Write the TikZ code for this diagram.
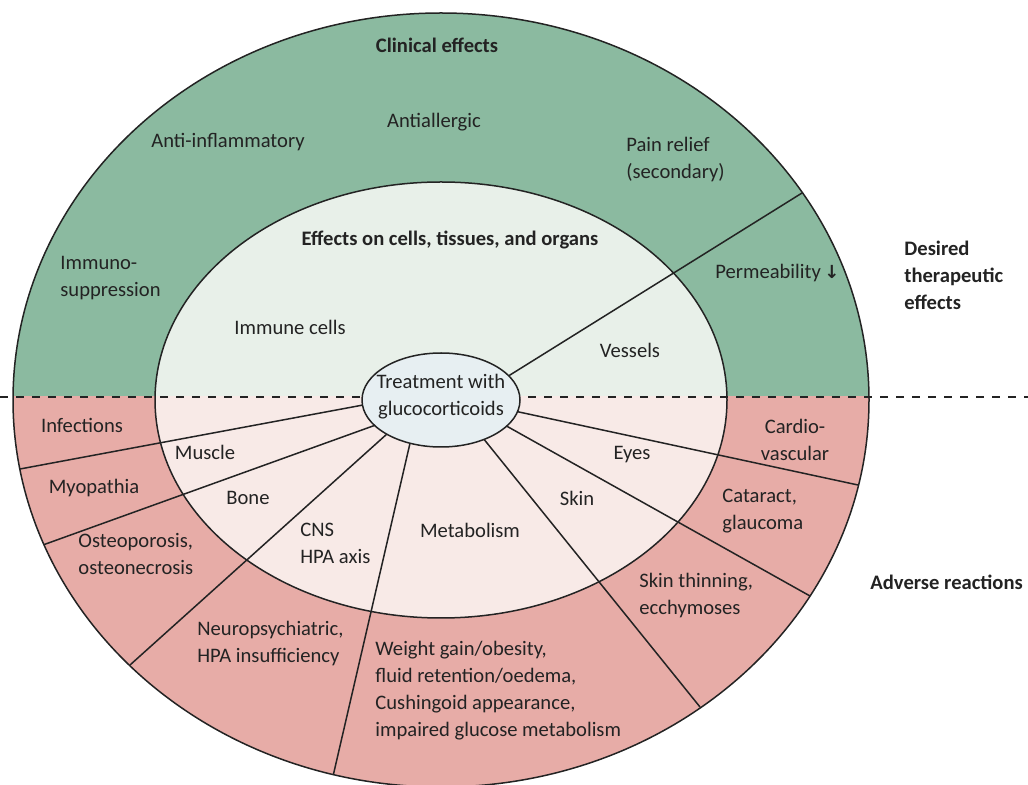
\documentclass[tikz,border=0pt]{standalone}
\usepackage{fontspec}
\setmainfont{Carlito}
\newfontfamily\dejavu{DejaVu Sans}
\usetikzlibrary{shapes.geometric}
\definecolor{greenOuter}{RGB}{139,186,160}
\definecolor{greenInner}{RGB}{232,240,233}
\definecolor{pinkOuter}{RGB}{231,172,167}
\definecolor{pinkInner}{RGB}{248,234,231}
\definecolor{centreFill}{RGB}{231,239,242}
\definecolor{ink}{RGB}{35,35,35}
\tikzset{
  lbl/.style={font=\fontsize{10.3}{13.5}\selectfont, text=ink, inner sep=0pt},
  lblL/.style={lbl, align=left},
  lblC/.style={lbl, align=center},
  hdr/.style={font=\bfseries\fontsize{10.3}{13.5}\selectfont, text=ink, inner sep=0pt},
  rim/.style={draw=ink, line width=0.75pt},
  spoke/.style={draw=ink, line width=0.75pt},
}
\begin{document}
\begin{tikzpicture}[x=0.5pt,y=-0.5pt]
\useasboundingbox (0,0) rectangle (1028,785);
% upper half fills
\begin{scope}
  \clip (0,0) rectangle (1028,397);
  \fill[greenOuter] (441,400) ellipse [x radius=428, y radius=387];
  \fill[greenInner] (441,400) ellipse [x radius=286, y radius=218];
\end{scope}
% lower half fills
\begin{scope}
  \clip (0,397) rectangle (1028,785);
  \fill[pinkOuter] (441,400) ellipse [x radius=428, y radius=387];
  \fill[pinkInner] (441,400) ellipse [x radius=286, y radius=218];
\end{scope}
% outlines
\draw[rim] (441,400) ellipse [x radius=428, y radius=387];
\draw[rim] (441,400) ellipse [x radius=286, y radius=218];
% dashed separator
\coordinate (dL) at (0,397);
\coordinate (dR) at (1028,397);
\draw[draw=ink, line width=1pt, dash pattern=on 4pt off 4pt] (dL) -- (dR);
% spoke end points
\coordinate (iU) at (501.5,380.3); \coordinate (oU) at (802.5,192.7);
\coordinate (i1) at (372.8,403.2); \coordinate (o1) at (20,469);
\coordinate (i2) at (382.4,422.6); \coordinate (o2) at (44,544.6);
\coordinate (i3) at (394.4,427.3); \coordinate (o3) at (130,665);
\coordinate (i4) at (412.3,433.3); \coordinate (o4) at (333.4,774.5);
\coordinate (i5) at (480.7,435.2); \coordinate (o5) at (700,707);
\coordinate (i6) at (501.3,423.1); \coordinate (o6) at (810,596);
\coordinate (i7) at (509.2,409.9); \coordinate (o7) at (858,485);
\foreach \s in {U,1,2,3,4,5,6,7} \draw[spoke] (i\s) -- (o\s);
% central ellipse
\node[ellipse, draw=ink, line width=0.75pt, fill=centreFill, minimum width=79pt, minimum height=47pt, inner sep=0pt] (T) at (441,400) {};
\node[lblC] (Tt) at (441,397) {Treatment with\\glucocorticoids};
% upper labels
\node[hdr] (clin) at (437,45) {Clinical effects};
\node[lbl] (antial) at (434,122) {Antiallergic};
\node[lbl] (antiinf) at (228,142) {Anti-inflammatory};
\node[lblL, anchor=west] (pain) at (626,160) {Pain relief\\(secondary)};
\node[lblL, anchor=west] (immsup) at (60,278) {Immuno-\\suppression};
\node[hdr] (eff) at (450,240) {Effects on cells, tissues, and organs};
\node[lbl, anchor=west] (perm) at (715,273) {Permeability\,{\dejavu\bfseries\fontsize{9}{9}\selectfont ↓}};
\node[lbl] (immc) at (290,327) {Immune cells};
\node[lbl] (vess) at (630,350) {Vessels};
\node[hdr, align=left, anchor=west] (desired) at (904,275) {Desired\\therapeutic\\effects};
% lower labels
\node[lbl] (inf) at (82,425) {Infections};
\node[lbl] (musc) at (205,452) {Muscle};
\node[lbl] (myo) at (94,488) {Myopathia};
\node[lbl] (bone) at (248,498) {Bone};
\node[lblL, anchor=west] (osteo) at (78,554) {Osteoporosis,\\osteonecrosis};
\node[lblL, anchor=west] (cns) at (300,543) {CNS\\HPA axis};
\node[lbl] (metab) at (470,530) {Metabolism};
\node[lbl] (skin) at (577,498) {Skin};
\node[lbl] (eyes) at (632,455) {Eyes};
\node[lblC] (cardio) at (795,440) {Cardio-\\vascular};
\node[lblL, anchor=west] (catar) at (722,511) {Cataract,\\glaucoma};
\node[lblL, anchor=west] (skinth) at (639,596) {Skin thinning,\\ecchymoses};
\node[lblL, anchor=west] (neuro) at (197,644) {Neuropsychiatric,\\HPA insufficiency};
\node[lblL, anchor=west] (weight) at (375,691) {Weight gain/obesity,\\fluid retention/oedema,\\Cushingoid appearance,\\impaired glucose metabolism};
\node[hdr, anchor=west] (adverse) at (870,582) {Adverse reactions};
\end{tikzpicture}
\end{document}
